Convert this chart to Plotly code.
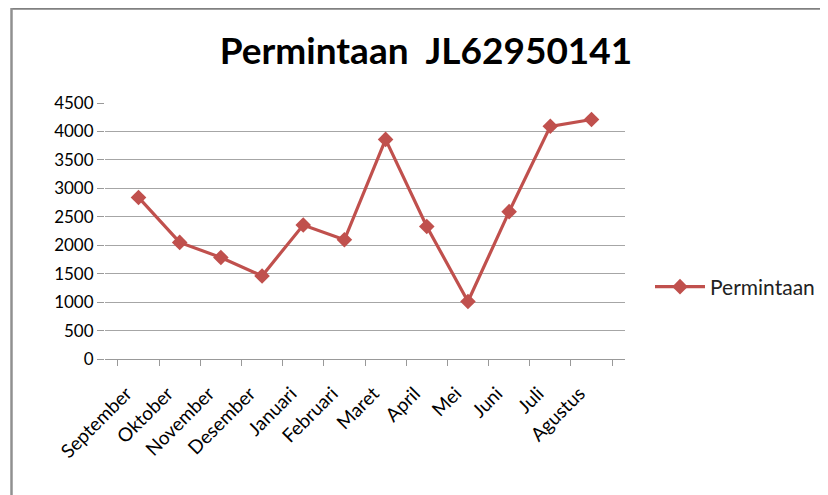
import plotly.graph_objects as go

months = ["September", "Oktober", "November", "Desember", "Januari", "Februari",
          "Maret", "April", "Mei", "Juni", "Juli", "Agustus"]
permintaan = [2840, 2050, 1785, 1460, 2355, 2095, 3860, 2330, 1010, 2590, 4090, 4210]
y_ticks = [0, 500, 1000, 1500, 2000, 2500, 3000, 3500, 4000, 4500]

FONT = "Lato, 'Open Sans', sans-serif"
RED = "#C0504D"

W, H = 820, 487
L, R, T, B = 97, 203, 95, 136
PW, PH = W - L - R, H - T - B

fig = go.Figure()
fig.add_trace(go.Scatter(
    x=months, y=permintaan, mode="lines+markers", name="Permintaan",
    line=dict(color=RED, width=3.2),
    marker=dict(symbol="diamond", size=12, color=RED),
))

fig.update_layout(
    width=W, height=H,
    margin=dict(l=L, r=R, t=T, b=B, autoexpand=False),
    paper_bgcolor="white", plot_bgcolor="white",
    title=dict(text="<b>Permintaan  JL62950141</b>", x=418 / W, xanchor="center",
               y=1 - 43 / H, yanchor="middle",
               font=dict(family=FONT, size=37, color="black")),
    font=dict(family=FONT, size=17, color="black"),
    showlegend=True,
    legend=dict(x=1 + (650 - 8 - L - PW) / PW, y=1 - (287 - 8 - T) / PH,
                xanchor="left", yanchor="middle",
                font=dict(family=FONT, size=21, color="#222"),
                bgcolor="rgba(0,0,0,0)", itemwidth=50),
    xaxis=dict(
        type="category", tickangle=-45, showgrid=False,
        showline=True, linecolor="#999", linewidth=1,
        ticks="outside", tickson="boundaries", ticklen=6, tickcolor="#999",
        ticklabelstandoff=15, ticklabelshift=-12,
        tickfont=dict(family=FONT, size=19, color="black"),
    ),
    yaxis=dict(
        range=[0, 4500], tickvals=y_ticks, showgrid=True, gridcolor="#a6a6a6",
        gridwidth=1, zeroline=False, showline=False,
        ticks="outside", ticklen=7, tickcolor="#999",
        tickfont=dict(family=FONT, size=17, color="black"),
    ),
    shapes=[
        dict(type="line", xref="paper", yref="paper",
             x0=(3.5 - L) / PW, x1=(W - L) / PW,
             y0=1 + (T - 0.5) / PH, y1=1 + (T - 0.5) / PH,
             line=dict(color="#808080", width=2.5), layer="below"),
        dict(type="line", xref="paper", yref="paper",
             x0=(3.5 - L) / PW, x1=(3.5 - L) / PW,
             y0=-B / PH, y1=1 + T / PH,
             line=dict(color="#909090", width=2.5), layer="below"),
    ],
)

fig.write_html("out.html")
